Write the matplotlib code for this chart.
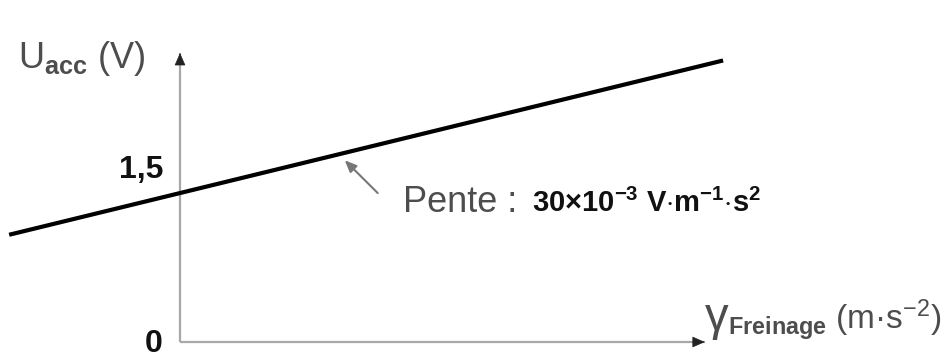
import matplotlib.pyplot as plt

plt.rcParams['font.family'] = ['Liberation Sans', 'DejaVu Sans']
plt.rcParams['mathtext.fontset'] = 'custom'
plt.rcParams['mathtext.rm'] = 'Liberation Sans'
plt.rcParams['mathtext.it'] = 'Liberation Sans:italic'
plt.rcParams['mathtext.bf'] = 'Liberation Sans:bold'

# values (gamma in m.s-2, U in V)
gamma_line = [-14.0, 44.5]
u_line = [1.08, 2.835]
u_ticks = [0, 1.5]
u_tick_labels = ['0', '1,5']
pente_point = [13.5, 1.83]
pente_label = 'Pente :'
pente_value = r'$\mathbf{30{\times}10^{-3}\ V{\cdot}m^{-1}{\cdot}s^{2}}$'
u_label = r'U$_{\mathbf{acc}}$ (V)'
gamma_symbol = 'γ'
gamma_label = r'$_{\mathbf{Freinage}}$ (m·s$^{\mathregular{-2}}$)'

AXIS_GREY = '#a8a8a8'
TEXT_GREY = '#4d4d4d'

fig = plt.figure(figsize=(9.44, 3.58), dpi=100)
ax = fig.add_axes([0, 0, 1, 1])
ax.set_xlim(-14.75, 62.6)
ax.set_ylim(-0.161, 3.444)
ax.axis('off')

# hand drawn axes with arrows
x_end, y_end = 43.0, 2.91
ax.plot([0, x_end], [0, 0], color=AXIS_GREY, lw=1.6, solid_capstyle='butt')
ax.plot([0, 0], [0, y_end], color=AXIS_GREY, lw=1.6, solid_capstyle='butt')
head = dict(arrowstyle='-|>,head_length=0.8,head_width=0.35', color='#222222',
            lw=0.5, shrinkA=0, shrinkB=0, mutation_scale=10)
ax.annotate('', xy=(x_end, 0), xytext=(x_end - 1, 0), arrowprops=head)
ax.annotate('', xy=(0, y_end), xytext=(0, y_end - 0.1), arrowprops=head)

# the line
ax.plot(gamma_line, u_line, color='black', lw=3, solid_capstyle='butt')

# tick labels
offsets = [(-17, -10), (-17, 15)]
for val, lab, off in zip(u_ticks, u_tick_labels, offsets):
    ax.annotate(lab, xy=(0, val), xytext=off, textcoords='offset pixels',
                ha='right', va='baseline', fontsize=23, fontweight='bold', color='#111111')

# slope annotation
ax.annotate('', xy=pente_point, xytext=(16.2, 1.50),
            arrowprops=dict(arrowstyle='-|>,head_length=0.7,head_width=0.3', color='#777777',
                            lw=1.5, shrinkA=0, shrinkB=0, mutation_scale=10))
ax.text(18.3, 1.309, pente_label, fontsize=26, color=TEXT_GREY, va='baseline')
ax.text(28.85, 1.309, pente_value, fontsize=21, color='#111111', va='baseline')

# axis labels
ax.text(-13.3, 2.76, u_label, fontsize=26, color=TEXT_GREY, va='baseline')
ax.text(43.0, 0.12, gamma_symbol, fontsize=34, color=TEXT_GREY, va='baseline')
ax.text(44.9, 0.12, gamma_label, fontsize=24, color=TEXT_GREY, va='baseline')

fig.savefig('out.png', dpi=100)
